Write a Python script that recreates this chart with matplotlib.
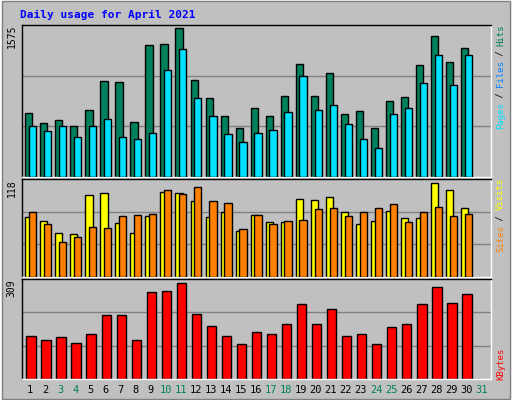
import matplotlib
matplotlib.use("Agg")
import matplotlib.pyplot as plt
from matplotlib.patches import Rectangle

days = list(range(1, 31))
day_labels = [str(d) for d in range(1, 32)]
weekend = [3, 4, 10, 11, 17, 18, 24, 25, 31]
hits = [658, 563, 595, 532, 690, 994, 983, 574, 1372, 1383, 1540, 1005, 816, 637, 511,
        711, 637, 837, 1173, 837, 1078, 648, 679, 511, 784, 826, 1162, 1456, 1194, 1341]
files = [532, 480, 532, 417, 532, 606, 417, 396, 459, 1110, 1330, 816, 627, 448, 364,
         459, 490, 669, 1047, 690, 742, 553, 396, 301, 648, 711, 973, 1267, 952, 1267]
visits = [72.5, 67.6, 52.8, 51.6, 98.3, 100.8, 65.1, 52.8, 73.7, 102, 101, 91, 72.5, 78.7, 55.3,
          75, 66.4, 66.4, 93.4, 92.2, 95.9, 78.7, 63.9, 67.6, 79.9, 71.3, 71.3, 113, 104.5, 83.6]
sites = [78.7, 63.9, 41.8, 47.9, 60.2, 59, 73.7, 75, 76.2, 104.5, 99.6, 108.2, 91, 89.7, 57.8,
         75, 63.9, 67.6, 68.8, 82.3, 83.6, 73.7, 78.7, 83.6, 88.5, 66.4, 78.7, 84.8, 73.7, 76.2]
kbytes = [134, 119, 131, 112, 140, 197, 197, 119, 268, 272, 296, 200, 165, 134, 109,
          144, 140, 169, 231, 169, 215, 134, 140, 109, 162, 169, 231, 284, 234, 262]
max_hits, max_visits, max_kb = 1575, 118, 309

W, H = 512, 400
fig = plt.figure(figsize=(W/100, H/100), dpi=100, facecolor="#C0C0C0")
font = dict(family="DejaVu Sans Mono", weight="bold", size=7)

fig.add_artist(Rectangle((0, 0), 1, 1, transform=fig.transFigure, fill=False, edgecolor="white", lw=2))
fig.add_artist(Rectangle((0.003, 0.003), 0.994, 0.994, transform=fig.transFigure, fill=False, edgecolor="#808080", lw=1))

fig.text(20/W, 1-15/H, "Daily usage for April 2021", color="#0000FF", fontdict=dict(font, size=8), va="center")

x0, x1 = 22, 491
panels = [(25, 177), (179, 277), (279, 379)]

def mkax(top, bot):
    ax = fig.add_axes([x0/W, 1-bot/H, (x1-x0)/W, (bot-top)/H])
    ax.set_facecolor("#C0C0C0")
    ax.set_xlim(0.35, 31.55)
    ax.set_xticks([]); ax.set_yticks([])
    for s in ax.spines.values():
        s.set_color("black"); s.set_linewidth(1)
    ax.spines["right"].set_color("white"); ax.spines["bottom"].set_color("white")
    return ax

bw = 0.48
ax1 = mkax(*panels[0])
ax1.set_ylim(0, max_hits)
for g in (max_hits/3, 2*max_hits/3):
    ax1.axhline(g, color="#808080", lw=1, zorder=0)
ax1.bar([d - 0.2 for d in days], hits, width=bw, color="#00805C", edgecolor="black", lw=1, zorder=2)
ax1.bar([d + 0.05 for d in days], files, width=bw, color="#00E0FF", edgecolor="black", lw=1, zorder=3)

ax2 = mkax(*panels[1])
ax2.set_ylim(0, max_visits)
for g in (max_visits/3, 2*max_visits/3):
    ax2.axhline(g, color="#808080", lw=1, zorder=0)
ax2.bar([d - 0.2 for d in days], visits, width=bw, color="#FFFF00", edgecolor="black", lw=1, zorder=2)
ax2.bar([d + 0.05 for d in days], sites, width=bw, color="#FF8000", edgecolor="black", lw=1, zorder=3)

ax3 = mkax(*panels[2])
ax3.set_ylim(0, max_kb)
for g in (max_kb/3, 2*max_kb/3):
    ax3.axhline(g, color="#808080", lw=1, zorder=0)
ax3.bar([d - 0.05 for d in days], kbytes, width=0.62, color="#FF0000", edgecolor="black", lw=1, zorder=2)

for ax, m in ((ax1, max_hits), (ax2, max_visits), (ax3, max_kb)):
    ax.text(-0.022, 1.0, str(m), transform=ax.transAxes, rotation=90, ha="center", va="top",
            fontdict=dict(font, weight="normal"))

for i, lab in enumerate(day_labels):
    d = i + 1
    ax3.text(d - 0.1, -0.06, lab, transform=ax3.get_xaxis_transform(), ha="center", va="top",
             color="#00805C" if d in weekend else "black", fontdict=dict(font, weight="normal", size=7.5))

def rtext(ax, parts, ytop):
    s_len = sum(len(p) for p, c in parts)
    ch = 5.2 / (ax.get_position().height * H)
    y = ytop - s_len * ch
    for p, c in parts:
        ax.text(1.02, y, p, transform=ax.transAxes, rotation=90, ha="center", va="bottom",
                color=c, fontdict=dict(font, weight="normal", size=6.5))
        y += len(p) * ch

rtext(ax1, [("Pages", "#00E0FF"), (" / ", "black"), ("Files", "#0080FF"), (" / ", "black"), ("Hits", "#00805C")], 1.0)
rtext(ax2, [("Sites", "#FF8000"), (" / ", "black"), ("Visits", "#FFFF00")], 1.0)
rtext(ax3, [("KBytes", "#FF0000")], 0.3)

fig.savefig("out.png", dpi=100, facecolor=fig.get_facecolor())
